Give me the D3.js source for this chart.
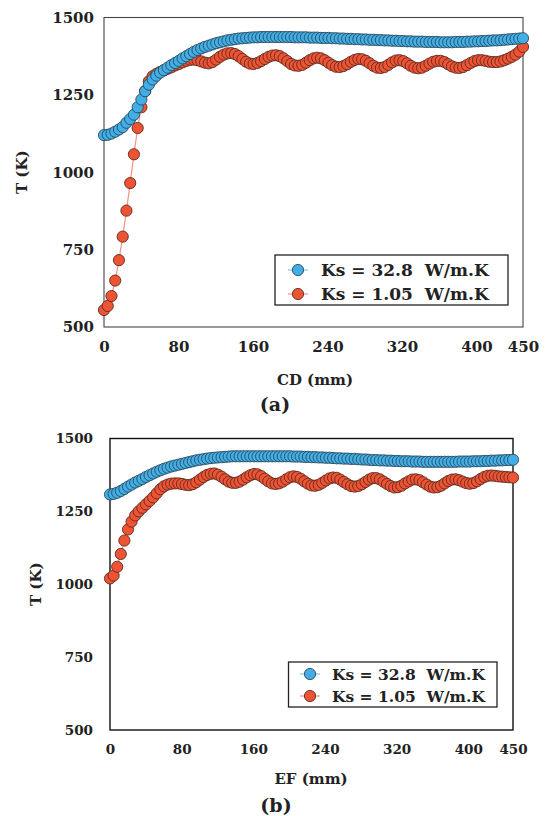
<!DOCTYPE html>
<html>
<head>
<meta charset="utf-8">
<script src="https://cdn.jsdelivr.net/npm/d3@7"></script>
<style>
    body { margin: 0; background: #fff; }
    text { font-family: "DejaVu Serif", serif; font-weight: bold; fill: #222; }
</style>
</head>
<body>
<svg id="fig" width="545" height="816"></svg>
<script>
// tick labels and legend entries
var xTicks = [0, 80, 160, 240, 320, 400, 450];
var yTicks = [500, 750, 1000, 1250, 1500];
var legendLabels = ["Ks = 32.8 \u00a0W/m.K", "Ks = 1.05 \u00a0W/m.K"];

// T (K) along CD, read every ~4 mm from 0 to 450 mm
var blueA = [1120, 1121, 1125, 1131, 1138, 1146, 1160, 1172, 1186, 1210,
             1235, 1262, 1283, 1300, 1312, 1322, 1330, 1338, 1346, 1353,
             1360, 1368, 1375, 1382, 1389, 1395, 1400, 1405, 1409, 1413,
             1417, 1420, 1423, 1426, 1428, 1430, 1432, 1433, 1434, 1435,
             1436, 1436, 1437, 1437, 1437, 1437, 1437, 1437, 1437, 1437,
             1437, 1436, 1436, 1436, 1436, 1435, 1435, 1435, 1434, 1434,
             1434, 1433, 1433, 1432, 1432, 1431, 1431, 1430, 1430, 1429,
             1429, 1428, 1428, 1427, 1427, 1426, 1426, 1425, 1425, 1424,
             1424, 1423, 1423, 1422, 1422, 1422, 1421, 1421, 1421, 1421,
             1420, 1420, 1420, 1420, 1421, 1421, 1421, 1422, 1422, 1423,
             1423, 1424, 1424, 1425, 1426, 1426, 1427, 1428, 1429, 1430,
             1431, 1432, 1433];
var redA = [555, 568, 600, 650, 716, 792, 876, 965, 1058, 1143,
            1210, 1262, 1294, 1310, 1318, 1324, 1329, 1334, 1339, 1345,
            1350, 1355, 1360, 1363, 1364, 1362, 1358, 1354, 1352, 1356,
            1364, 1373, 1380, 1384, 1385, 1382, 1375, 1366, 1357, 1351,
            1350, 1353, 1359, 1366, 1373, 1377, 1378, 1375, 1368, 1359,
            1350, 1345, 1344, 1347, 1354, 1362, 1368, 1370, 1368, 1362,
            1354, 1346, 1341, 1340, 1343, 1349, 1357, 1363, 1366, 1365,
            1360, 1352, 1344, 1338, 1337, 1340, 1347, 1355, 1361, 1362,
            1359, 1352, 1344, 1338, 1336, 1338, 1344, 1351, 1357, 1360,
            1360, 1356, 1349, 1342, 1338, 1337, 1340, 1346, 1353, 1359,
            1362, 1362, 1360, 1357, 1356, 1356, 1358, 1362, 1367, 1373,
            1380, 1390, 1405];

// T (K) along EF
var blueB = [1308, 1310, 1314, 1320, 1327, 1335, 1342, 1349, 1355, 1361,
             1368, 1374, 1380, 1386, 1391, 1396, 1400, 1404, 1407, 1410,
             1413, 1416, 1419, 1422, 1425, 1427, 1429, 1431, 1433, 1434,
             1435, 1436, 1437, 1438, 1439, 1439, 1439, 1439, 1439, 1439,
             1439, 1439, 1439, 1439, 1439, 1439, 1439, 1439, 1439, 1439,
             1439, 1438, 1438, 1438, 1437, 1437, 1436, 1436, 1435, 1435,
             1434, 1434, 1433, 1432, 1432, 1431, 1431, 1430, 1430, 1429,
             1428, 1428, 1427, 1426, 1426, 1425, 1425, 1424, 1424, 1423,
             1423, 1422, 1422, 1422, 1421, 1421, 1421, 1420, 1420, 1420,
             1420, 1420, 1420, 1420, 1420, 1420, 1420, 1421, 1421, 1421,
             1421, 1422, 1422, 1422, 1423, 1423, 1424, 1424, 1425, 1425,
             1426, 1426, 1427];
var redB = [1020, 1030, 1060, 1104, 1150, 1188, 1215, 1236, 1250, 1262,
            1274, 1286, 1298, 1312, 1326, 1336, 1342, 1345, 1346, 1346,
            1344, 1341, 1340, 1343, 1350, 1359, 1368, 1375, 1379, 1380,
            1376, 1369, 1360, 1352, 1348, 1348, 1352, 1359, 1367, 1374,
            1378, 1377, 1371, 1362, 1353, 1346, 1344, 1346, 1352, 1360,
            1367, 1370, 1368, 1362, 1353, 1345, 1339, 1338, 1341, 1348,
            1356, 1363, 1366, 1365, 1359, 1351, 1343, 1337, 1335, 1337,
            1343, 1351, 1359, 1364, 1364, 1360, 1352, 1344, 1337, 1332,
            1333, 1338, 1346, 1353, 1359, 1360, 1357, 1350, 1342, 1335,
            1332, 1333, 1338, 1346, 1354, 1359, 1360, 1357, 1352, 1347,
            1345, 1347, 1353, 1361, 1368, 1372, 1373, 1372, 1370, 1369,
            1368, 1367, 1366];

var blue = { fill: "#41aee6", stroke: "#2d4a5e", line: "#7cc6ee" };
var red = { fill: "#ee5434", stroke: "#5e2a20", line: "#f39382" };

var svg = d3.select("#fig");

function panel(o) {
    var x = d3.scaleLinear().domain([0, 450]).range([o.left, o.right]);
    var y = d3.scaleLinear().domain([500, 1500]).range([o.bottom, o.top]);
    var g = svg.append("g");

    var xAxis = g.append("g")
        .attr("transform", "translate(0," + o.bottom + ")")
        .call(d3.axisBottom(x).tickValues(xTicks).tickFormat(d3.format("d")).tickSize(0).tickPadding(o.xPad));
    xAxis.select(".domain").remove();
    xAxis.selectAll("text").style("font-size", o.tickSize + "px");

    var yAxis = g.append("g")
        .attr("transform", "translate(" + o.left + ",0)")
        .call(d3.axisLeft(y).tickValues(yTicks).tickFormat(d3.format("d")).tickSize(0).tickPadding(o.left - o.labelRight));
    yAxis.select(".domain").remove();
    yAxis.selectAll("text").style("font-size", o.tickSize + "px");
    g.selectAll(".tick text").attr("fill", "#222").style("font-family", "DejaVu Serif").style("font-weight", "bold");

    g.append("rect")
        .attr("x", o.left).attr("y", o.top)
        .attr("width", o.right - o.left).attr("height", o.bottom - o.top)
        .attr("fill", "none").attr("stroke", o.frame).attr("stroke-width", o.frameW);

    var line = d3.line()
        .x(function(d, i) { return x(i * 450 / (o.data[0].length - 1)); })
        .y(function(d) { return y(d); });

    // red first, blue drawn over it
    [[o.data[1], red], [o.data[0], blue]].forEach(function(s) {
        g.append("path").datum(s[0])
            .attr("d", line).attr("fill", "none")
            .attr("stroke", s[1].line).attr("stroke-width", 1.2);
        g.selectAll(null).data(s[0]).enter().append("circle")
            .attr("cx", function(d, i) { return x(i * 450 / (s[0].length - 1)); })
            .attr("cy", function(d) { return y(d); })
            .attr("r", 5.6)
            .attr("fill", s[1].fill).attr("stroke", s[1].stroke).attr("stroke-width", 0.9);
    });

    // legend
    var lg = o.legend;
    g.append("rect")
        .attr("x", lg.x).attr("y", lg.y).attr("width", lg.w).attr("height", lg.h)
        .attr("fill", "#fff").attr("stroke", "#222").attr("stroke-width", 1.3);
    [blue, red].forEach(function(c, i) {
        var ry = lg.rows[i];
        g.append("line")
            .attr("x1", lg.mx - 10).attr("x2", lg.mx + 10).attr("y1", ry).attr("y2", ry)
            .attr("stroke", c.line).attr("stroke-width", 1.2);
        g.append("circle").attr("cx", lg.mx).attr("cy", ry).attr("r", 5.6)
            .attr("fill", c.fill).attr("stroke", c.stroke).attr("stroke-width", 0.9);
        g.append("text").attr("x", lg.tx).attr("y", ry).attr("dy", "0.36em")
            .style("font-size", lg.font + "px")
            .text(legendLabels[i]);
    });

    g.append("text")
        .attr("transform", "translate(" + o.yTitleX + "," + (o.top + o.bottom) / 2 + ") rotate(-90)")
        .attr("text-anchor", "middle").attr("dy", "0.36em")
        .style("font-size", "15px").text("T (K)");
    g.append("text")
        .attr("x", o.xTitle[0]).attr("y", o.xTitle[1]).attr("dy", "0.36em")
        .attr("text-anchor", "middle").style("font-size", "15px").text(o.xLabel);
    g.append("text")
        .attr("x", o.tag[0]).attr("y", o.tag[1]).attr("dy", "0.36em")
        .attr("text-anchor", "middle").style("font-size", "19px").text(o.tagText);
}

panel({
    left: 104, right: 523, top: 17.5, bottom: 327,
    labelRight: 94, xPad: 14, tickSize: 15,
    frame: "#444", frameW: 1.1,
    data: [blueA, redA],
    legend: { x: 275, y: 255, w: 233, h: 50, rows: [270, 294], mx: 298, tx: 321, font: 17 },
    yTitleX: 22, xTitle: [315, 380], xLabel: "CD (mm)", tag: [275, 404], tagText: "(a)"
});

panel({
    left: 110, right: 513, top: 438.5, bottom: 730,
    labelRight: 93, xPad: 14, tickSize: 13.5,
    frame: "#111", frameW: 1.4,
    data: [blueB, redB],
    legend: { x: 288.5, y: 662, w: 208.5, h: 45, rows: [674, 696], mx: 310, tx: 332, font: 15.5 },
    yTitleX: 36, xTitle: [311, 779], xLabel: "EF (mm)", tag: [276, 805], tagText: "(b)"
});
</script>
</body>
</html>
